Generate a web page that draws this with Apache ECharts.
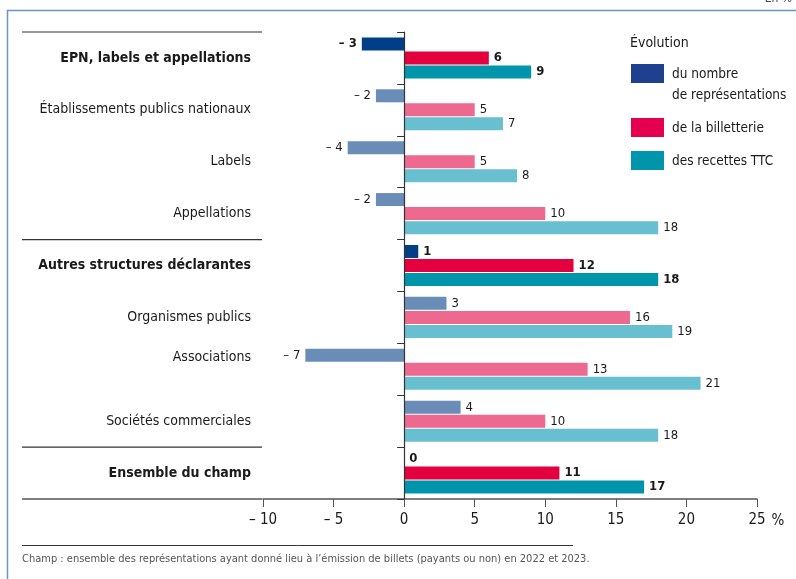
<!DOCTYPE html>
<html>
<head>
<meta charset="utf-8">
<script src="https://cdn.jsdelivr.net/npm/echarts@6/dist/echarts.min.js"></script>
<style>
  html, body { margin: 0; padding: 0; background: #fff; }
  #chart { width: 796px; height: 579px; }
</style>
</head>
<body>
<div id="chart"></div>
<script>
// données (évolution 2022-2023, en %)
const categories = [
    'EPN, labels et appellations',
    'Établissements publics nationaux',
    'Labels',
    'Appellations',
    'Autres structures déclarantes',
    'Organismes publics',
    'Associations',
    'Sociétés commerciales',
    'Ensemble du champ'
];
const boldRows = [true, false, false, false, true, false, false, false, true];
const representations = [-3, -2, -4, -2, 1, 3, -7, 4, 0];
const billetterie = [6, 5, 5, 10, 12, 16, 13, 10, 11];
const recettes = [9, 7, 8, 18, 18, 19, 21, 18, 17];

const seriesNames = ['du nombre\nde représentations', 'de la billetterie', 'des recettes TTC'];
const darkColors = ['#003f88', '#e4003f', '#0095aa'];
const lightColors = ['#6a8db8', '#ee6990', '#67bfcf'];
const legendColors = ['#1f3f8f', '#e4004f', '#0095aa'];

const FONT = '"Liberation Sans Narrow", "DejaVu Sans Condensed", "Noto Sans", sans-serif';

// tiret demi-cadratin + espace pour les négatifs, comme dans l'original
const fmt = v => (v < 0 ? '\u2013 ' + Math.abs(v) : String(v));

const makeSeries = (name, values, idx) => ({
    name: name,
    type: 'bar',
    barWidth: 13,
    barGap: '8%',
    label: {
        show: true,
        formatter: p => fmt(p.value),
        fontFamily: FONT,
        fontSize: 13,
        color: '#1a1a1a',
        distance: 5
    },
    data: values.map((v, i) => ({
        value: v,
        itemStyle: { color: boldRows[i] ? darkColors[idx] : lightColors[idx] },
        label: {
            position: v < 0 ? 'left' : 'right',
            fontWeight: boldRows[i] ? 'bold' : 'normal'
        }
    }))
});

const chart = echarts.init(document.getElementById('chart'));

const series = [
    makeSeries(seriesNames[0], representations, 0),
    makeSeries(seriesNames[1], billetterie, 1),
    makeSeries(seriesNames[2], recettes, 2)
];
// ligne du zéro
series[0].markLine = {
    silent: true,
    symbol: 'none',
    label: { show: false },
    lineStyle: { color: '#333', type: 'solid', width: 1.2 },
    data: [{ xAxis: 0 }]
};

chart.setOption({
    animation: false,
    textStyle: { fontFamily: FONT },
    grid: { left: 263, right: 39, top: 32, bottom: 80, containLabel: false },
    xAxis: {
        type: 'value',
        min: -10,
        max: 25,
        interval: 5,
        name: '%',
        nameLocation: 'end',
        nameGap: 6,
        nameTextStyle: { fontFamily: FONT, fontSize: 15, color: '#1a1a1a', verticalAlign: 'top', padding: [15, 0, 0, 0] },
        axisLine: { show: true, lineStyle: { color: '#555', width: 1.5 } },
        axisTick: { show: true, length: 8, lineStyle: { color: '#555' } },
        splitLine: { show: false },
        axisLabel: {
            formatter: v => fmt(v),
            fontFamily: FONT,
            fontSize: 15,
            color: '#1a1a1a',
            margin: 14
        }
    },
    yAxis: {
        type: 'category',
        inverse: true,
        data: categories,
        axisLine: { show: true, lineStyle: { color: '#333', width: 1 } },
        axisTick: { show: true, length: 7, lineStyle: { color: '#333' } },
        axisLabel: {
            margin: 12,
            fontFamily: FONT,
            fontSize: 14,
            color: '#1a1a1a',
            formatter: (v, i) => {
                if (boldRows[i]) return '{b|' + v + '}';
                if (v === 'Associations') return '{up|' + v + '}';
                return v;
            },
            rich: {
                b: { fontFamily: FONT, fontSize: 14, fontWeight: 'bold', color: '#1a1a1a' },
                up: { fontFamily: FONT, fontSize: 14, color: '#1a1a1a', padding: [0, 0, 24, 0] }
            }
        }
    },
    series: series
});

// traits de séparation des groupes + légende + cadre
const rowY = categories.map(c => chart.convertToPixel({ yAxisIndex: 0 }, c));
const half = (rowY[1] - rowY[0]) / 2;
const groupLines = [rowY[0] - half, (rowY[3] + rowY[4]) / 2, (rowY[7] + rowY[8]) / 2, rowY[8] + half];
const axisX = chart.convertToPixel({ xAxisIndex: 0 }, -10);

const gfx = [];
gfx.push({ type: 'line', shape: { x1: 7, y1: 10.5, x2: 796, y2: 10.5 }, style: { stroke: '#6b93c3', lineWidth: 1.5 } });
gfx.push({ type: 'line', shape: { x1: 7.5, y1: 10, x2: 7.5, y2: 579 }, style: { stroke: '#6b93c3', lineWidth: 1.5 } });
gfx.push({ type: 'text', right: 4, top: -7, style: { text: 'En %', fontFamily: FONT, fontSize: 12, fill: '#444' } });

groupLines.forEach((y, i) => {
    gfx.push({
        type: 'line',
        shape: { x1: 22, y1: y, x2: axisX - 1, y2: y },
        style: { stroke: i === 3 ? '#555' : '#333', lineWidth: i === 3 ? 1.5 : 1.2 }
    });
});

gfx.push({ type: 'text', left: 630, top: 36, style: { text: 'Évolution', fontFamily: FONT, fontSize: 14, fill: '#1a1a1a' } });
const legendTop = [64, 118, 151];
seriesNames.forEach((n, i) => {
    gfx.push({ type: 'rect', shape: { x: 631, y: legendTop[i], width: 33, height: 19 }, style: { fill: legendColors[i] } });
    gfx.push({
        type: 'text', left: 672, top: legendTop[i],
        style: { text: n, fontFamily: FONT, fontSize: 13.5, lineHeight: 21, fill: '#1a1a1a' }
    });
});

gfx.push({ type: 'line', shape: { x1: 22, y1: 545.5, x2: 573, y2: 545.5 }, style: { stroke: '#333', lineWidth: 1 } });
gfx.push({
    type: 'text', left: 22, top: 554,
    style: {
        text: 'Champ : ensemble des représentations ayant donné lieu à l\u2019émission de billets (payants ou non) en 2022 et 2023.',
        fontFamily: FONT, fontSize: 11, fill: '#555'
    }
});

chart.setOption({ graphic: gfx });
</script>
</body>
</html>
